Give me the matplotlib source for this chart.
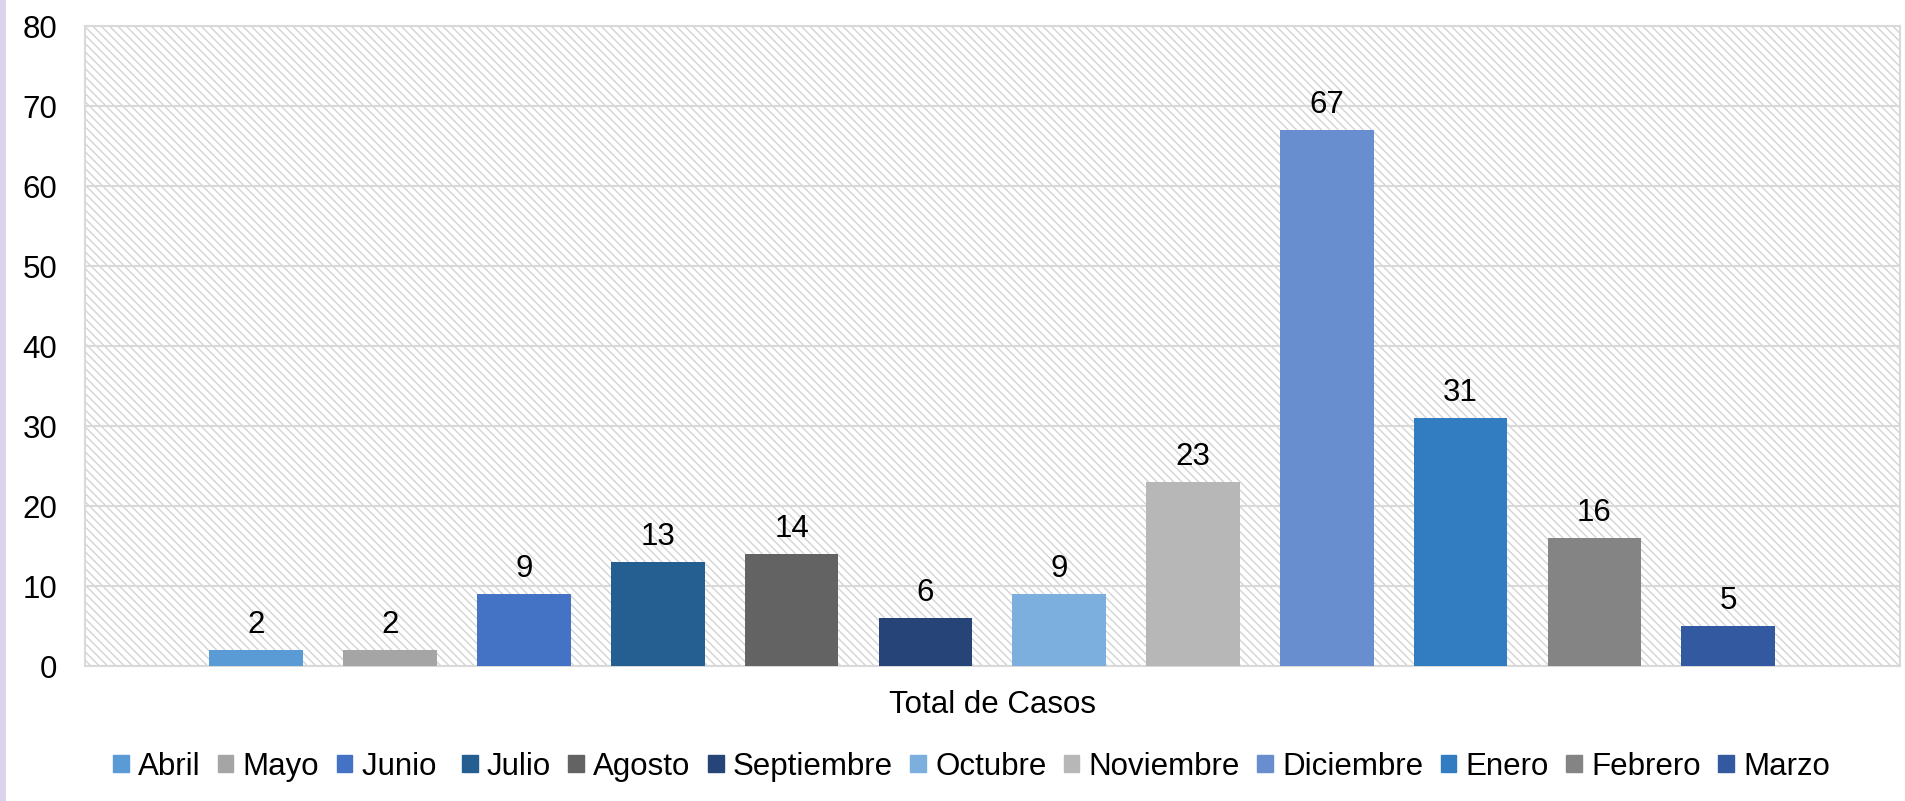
import matplotlib.pyplot as plt
from matplotlib.patches import Rectangle
import numpy as np

plt.rcParams['font.family'] = ['Liberation Sans', 'DejaVu Sans']
plt.rcParams['hatch.linewidth'] = 1.0

meses = ["Abril", "Mayo", "Junio ", "Julio", "Agosto", "Septiembre",
         "Octubre", "Noviembre", "Diciembre", "Enero", "Febrero", "Marzo"]
casos = [2, 2, 9, 13, 14, 6, 9, 23, 67, 31, 16, 5]
colores = ["#5B9BD5", "#A5A5A5", "#4472C4", "#255E91", "#636363", "#264478",
           "#7CAFDD", "#B7B7B7", "#698ED0", "#327DC2", "#848484", "#335AA1"]
categoria = "Total de Casos"

FS = 22.5

fig = plt.figure(figsize=(19.06, 8.01), dpi=100)
ax = fig.add_axes([0.0446, 0.1685, 0.952, 0.799])

# hatched plot area background
ax.add_patch(Rectangle((0, 0), 1, 1, transform=ax.transAxes, facecolor="white",
                       edgecolor="#d4d4d4", hatch="\\\\\\\\", lw=0, zorder=0))

x = np.arange(len(meses))
ax.bar(x, casos, width=0.7, color=colores, zorder=3)
for xi, v in zip(x, casos):
    ax.text(xi, v + 1.2, str(v), ha="center", va="bottom", fontsize=FS, zorder=4)

ax.set_xlim(-1.28, 12.28)
ax.set_ylim(0, 80)
ax.set_yticks(range(0, 81, 10))
ax.tick_params(axis="y", length=0, labelsize=FS, pad=20)
ax.set_xticks([])
ax.set_xlabel(categoria, fontsize=FS, labelpad=17)
ax.grid(axis="y", color="#d9d9d9", lw=1.5, zorder=1)
ax.set_axisbelow(True)
for s in ax.spines.values():
    s.set_color("#d9d9d9")
    s.set_linewidth(1.5)

handles = [Rectangle((0, 0), 1, 1, color=c) for c in colores]
fig.legend(handles, meses, loc="center", bbox_to_anchor=(0.5097, 0.043), ncol=12,
           frameon=False, fontsize=FS, handlelength=0.5, handleheight=0.5,
           handletextpad=0.3, columnspacing=0.55, borderpad=0)

# thin purple strip on the left edge
fig.patches.append(Rectangle((0, 0), 0.003, 1, transform=fig.transFigure,
                             facecolor="#ddd2ec", lw=0))

fig.savefig("out.png", dpi=100)
